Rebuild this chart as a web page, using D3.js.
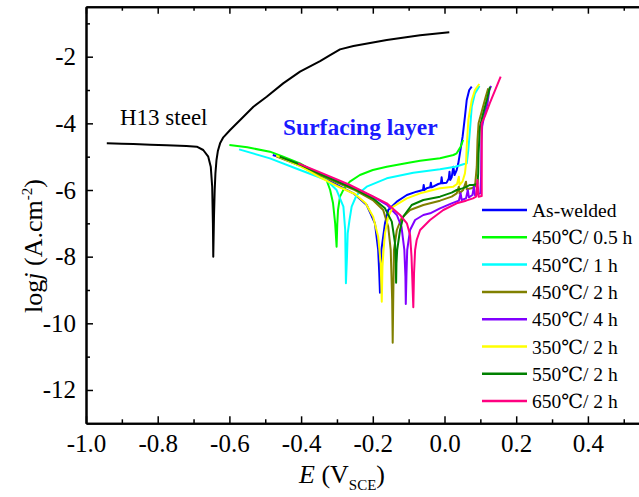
<!DOCTYPE html>
<html><head><meta charset="utf-8">
<script src="https://cdn.jsdelivr.net/npm/d3@7"></script>
<style>body{margin:0;background:#fff}svg{display:block}
svg text{font-family:"Liberation Serif","Times New Roman","DejaVu Serif",serif;}</style>
</head><body>
<svg id="chart" width="639" height="497"></svg>
<script>
// ---- data ----
const xMajorTicks = [-1.0, -0.8, -0.6, -0.4, -0.2, 0.0, 0.2, 0.4];
const xMinorTicks = [-0.9, -0.7, -0.5, -0.3, -0.1, 0.1, 0.3, 0.5];
const yMajorTicks = [-2, -4, -6, -8, -10, -12];
const yMinorTicks = [-1, -3, -5, -7, -9, -11];

const h13Steel = [
  [-0.942,-4.60],[-0.90,-4.61],[-0.868,-4.62],[-0.82,-4.64],[-0.775,-4.66],[-0.72,-4.68],[-0.691,-4.70],
  [-0.673,-4.80],[-0.659,-5.00],[-0.652,-5.30],[-0.648,-5.90],[-0.646,-7.00],[-0.645,-8.00],
  [-0.643,-6.80],[-0.641,-6.00],[-0.639,-5.50],[-0.636,-5.10],[-0.632,-4.82],[-0.626,-4.60],[-0.617,-4.42],
  [-0.598,-4.20],[-0.570,-3.90],[-0.533,-3.50],[-0.496,-3.20],[-0.450,-2.80],[-0.403,-2.45],[-0.347,-2.13],
  [-0.319,-1.95],[-0.2915,-1.78],[-0.254,-1.68],[-0.161,-1.50],[-0.068,-1.36],[0.0134,-1.27]
];

const asWelded = [
  [-0.479,-4.95],[-0.45,-5.05],[-0.40,-5.28],[-0.347,-5.60],[-0.30,-5.85],[-0.254,-6.10],[-0.217,-6.45],
  [-0.194,-7.00],[-0.185,-7.80],[-0.182,-8.50],[-0.180,-9.08],[-0.178,-8.30],[-0.176,-7.80],[-0.166,-7.00],
  [-0.157,-6.60],[-0.133,-6.35],[-0.105,-6.15],[-0.078,-6.05],[-0.060,-6.00],[-0.058,-5.85],[-0.056,-6.00],
  [-0.050,-5.95],[-0.040,-5.92],[-0.038,-5.78],[-0.036,-5.92],[-0.0173,-5.82],[-0.010,-5.80],[-0.008,-5.62],
  [-0.006,-5.80],[0.006,-5.78],[0.012,-5.65],[0.014,-5.45],[0.016,-5.70],[0.020,-5.62],[0.0246,-5.30],
  [0.028,-5.55],[0.034,-5.40],[0.0385,-5.20],[0.043,-4.90],[0.0505,-4.40],[0.057,-3.80],[0.062,-3.30],
  [0.069,-3.00],[0.076,-2.90]
];
const t450h05 = [
  [-0.600,-4.65],[-0.55,-4.72],[-0.487,-4.85],[-0.45,-5.00],[-0.403,-5.20],[-0.347,-5.55],[-0.329,-5.70],
  [-0.319,-6.00],[-0.311,-6.39],[-0.305,-7.00],[-0.301,-7.70],[-0.299,-7.00],[-0.297,-6.60],[-0.2915,-6.20],
  [-0.280,-5.95],[-0.264,-5.75],[-0.236,-5.55],[-0.20,-5.40],[-0.161,-5.30],[-0.10,-5.18],[-0.068,-5.12],
  [-0.0126,-5.05],[0.025,-4.95],[0.034,-4.90],[0.045,-4.70],[0.052,-4.50]
];
const t450h1 = [
  [-0.573,-4.78],[-0.487,-5.05],[-0.403,-5.40],[-0.329,-5.70],[-0.301,-6.00],[-0.282,-6.50],[-0.277,-7.20],
  [-0.275,-8.80],[-0.272,-8.00],[-0.270,-7.30],[-0.265,-6.90],[-0.259,-6.50],[-0.245,-6.15],[-0.217,-5.90],
  [-0.161,-5.65],[-0.087,-5.48],[-0.0126,-5.38],[0.030,-5.30],[0.055,-5.22],[0.062,-5.20],[0.0664,-4.80],
  [0.071,-4.20],[0.076,-3.50],[0.085,-3.10],[0.0976,-2.88]
];
const t450h2 = [
  [-0.468,-5.00],[-0.40,-5.28],[-0.347,-5.55],[-0.30,-5.78],[-0.25,-6.00],[-0.20,-6.30],[-0.171,-6.60],
  [-0.157,-7.10],[-0.150,-7.80],[-0.146,-9.30],[-0.1445,-10.58],[-0.143,-9.30],[-0.141,-7.80],[-0.133,-7.20],
  [-0.120,-6.85],[-0.096,-6.60],[-0.059,-6.45],[-0.0126,-6.32],[0.020,-6.20],[0.034,-6.10],[0.040,-5.90],
  [0.042,-6.10],[0.052,-6.00],[0.060,-5.75],[0.062,-5.98],[0.075,-5.95],[0.085,-5.90],[0.090,-5.30],
  [0.092,-4.50],[0.095,-4.00],[0.105,-3.60],[0.115,-3.20],[0.122,-2.95]
];
const t450h4 = [
  [-0.45,-5.05],[-0.40,-5.25],[-0.347,-5.50],[-0.30,-5.72],[-0.25,-5.95],[-0.20,-6.20],[-0.16,-6.45],
  [-0.133,-6.75],[-0.120,-7.10],[-0.112,-7.80],[-0.109,-8.60],[-0.108,-9.42],[-0.106,-8.50],[-0.104,-7.80],
  [-0.096,-7.20],[-0.082,-6.90],[-0.059,-6.75],[-0.040,-6.70],[-0.0126,-6.55],[0.020,-6.40],[0.040,-6.32],
  [0.045,-6.10],[0.048,-6.30],[0.060,-6.25],[0.065,-6.00],[0.068,-6.22],[0.078,-6.15],[0.082,-5.90],
  [0.085,-6.15],[0.100,-6.10],[0.102,-5.60],[0.103,-4.60],[0.105,-4.10],[0.112,-3.70],[0.120,-3.40],
  [0.125,-3.00],[0.130,-2.88]
];
const t350h2 = [
  [-0.470,-4.97],[-0.45,-5.05],[-0.40,-5.30],[-0.347,-5.62],[-0.30,-5.88],[-0.25,-6.12],[-0.22,-6.40],
  [-0.199,-6.80],[-0.185,-7.40],[-0.178,-8.20],[-0.175,-9.35],[-0.173,-8.30],[-0.170,-7.80],[-0.166,-7.30],
  [-0.157,-6.80],[-0.143,-6.50],[-0.105,-6.25],[-0.068,-6.10],[-0.0126,-5.95],[0.0246,-5.90],[0.035,-5.82],
  [0.040,-5.60],[0.042,-5.85],[0.050,-5.75],[0.057,-5.50],[0.060,-5.20],[0.062,-4.70],[0.0665,-3.90],
  [0.076,-3.30],[0.085,-3.00],[0.097,-2.82]
];
const t550h2 = [
  [-0.460,-5.00],[-0.40,-5.25],[-0.347,-5.52],[-0.30,-5.74],[-0.25,-5.97],[-0.20,-6.25],[-0.166,-6.55],
  [-0.147,-6.95],[-0.138,-7.60],[-0.136,-8.20],[-0.135,-8.78],[-0.134,-8.20],[-0.132,-7.80],[-0.124,-7.20],
  [-0.115,-6.80],[-0.0915,-6.45],[-0.059,-6.30],[-0.0126,-6.20],[0.020,-6.08],[0.034,-6.00],[0.050,-5.95],
  [0.062,-5.90],[0.070,-5.85],[0.080,-5.85],[0.092,-5.82],[0.094,-5.50],[0.095,-4.90],[0.099,-4.10],
  [0.108,-3.70],[0.118,-3.30],[0.127,-2.90]
];
const t650h2 = [
  [-0.408,-5.20],[-0.347,-5.47],[-0.30,-5.68],[-0.264,-5.85],[-0.208,-6.15],[-0.161,-6.40],[-0.124,-6.75],
  [-0.105,-7.00],[-0.096,-7.35],[-0.092,-8.00],[-0.087,-9.52],[-0.085,-8.50],[-0.082,-7.80],[-0.0776,-7.50],
  [-0.068,-7.20],[-0.0404,-6.90],[-0.0033,-6.60],[0.034,-6.40],[0.060,-6.32],[0.0795,-6.25],[0.088,-6.20],
  [0.092,-5.70],[0.095,-6.20],[0.1038,-6.18],[0.1038,-4.00],[0.1122,-3.80],[0.1261,-3.40],[0.1567,-2.60]
];

const seriesNames = ["As-welded", "450\u2103/ 0.5 h", "450\u2103/ 1 h", "450\u2103/ 2 h",
                     "450\u2103/ 4 h", "350\u2103/ 2 h", "550\u2103/ 2 h", "650\u2103/ 2 h"];
const seriesData = [asWelded, t450h05, t450h1, t450h2, t450h4, t350h2, t550h2, t650h2];
const seriesColors = ["#0000ff", "#00ff00", "#00ffff", "#808000", "#8000ff", "#ffff00", "#008000", "#ff0080"];

// ---- layout ----
const svg = d3.select("#chart");
const FONT = '"Liberation Serif","Times New Roman","DejaVu Serif",serif';
const x = d3.scaleLinear().domain([-1.0, 0.6]).range([86, 659.6]);
const y = d3.scaleLinear().domain([-13, -0.5]).range([423.3, 6.7]);

const line = d3.line().x(d => x(d[0])).y(d => y(d[1])).curve(d3.curveLinear);

svg.append("path").datum(h13Steel).attr("d", line)
  .attr("fill", "none").attr("stroke", "#000").attr("stroke-width", 2).attr("stroke-linejoin", "round");
seriesData.forEach((s, i) => {
  svg.append("path").datum(s).attr("d", line)
    .attr("fill", "none").attr("stroke", seriesColors[i]).attr("stroke-width", 2)
    .attr("stroke-linejoin", "round");
});

function styleAxis(g) {
  g.attr("font-family", null).attr("font-size", null);
  g.selectAll("path.domain").attr("stroke", "#000").attr("stroke-width", 2);
  g.selectAll(".tick line").attr("stroke", "#000").attr("stroke-width", 1.5);
  g.selectAll("text").style("font-family", FONT).style("font-size", "25px").attr("fill", "#000");
}
const fmtX = d => d3.format(".1f")(d).replace("\u2212", "-");
const fmtY = d => String(d);

const gB = svg.append("g").attr("transform", `translate(0,${y(-13)})`)
  .call(d3.axisBottom(x).tickValues(xMajorTicks).tickFormat(fmtX).tickSizeInner(-7).tickSizeOuter(0).tickPadding(11));
styleAxis(gB);
const gBm = svg.append("g").attr("transform", `translate(0,${y(-13)})`)
  .call(d3.axisBottom(x).tickValues(xMinorTicks).tickFormat("").tickSizeInner(-4).tickSizeOuter(0));
styleAxis(gBm);
const gT = svg.append("g").attr("transform", `translate(0,${y(-0.5)})`)
  .call(d3.axisTop(x).tickValues(xMajorTicks).tickFormat("").tickSizeInner(-7).tickSizeOuter(0));
styleAxis(gT);
const gTm = svg.append("g").attr("transform", `translate(0,${y(-0.5)})`)
  .call(d3.axisTop(x).tickValues(xMinorTicks).tickFormat("").tickSizeInner(-4).tickSizeOuter(0));
styleAxis(gTm);
const gL = svg.append("g").attr("transform", `translate(${x(-1.0)},0)`)
  .call(d3.axisLeft(y).tickValues(yMajorTicks).tickFormat(fmtY).tickSizeInner(-7).tickSizeOuter(0).tickPadding(10));
styleAxis(gL);
const gLm = svg.append("g").attr("transform", `translate(${x(-1.0)},0)`)
  .call(d3.axisLeft(y).tickValues(yMinorTicks).tickFormat("").tickSizeInner(-4).tickSizeOuter(0));
styleAxis(gLm);

const xt = svg.append("text").attr("x", 342).attr("y", 483).attr("text-anchor", "middle")
  .style("font-size", "26px").attr("fill", "#000");
xt.append("tspan").attr("font-style", "italic").text("E");
xt.append("tspan").text(" (V");
xt.append("tspan").style("font-size", "15px").attr("dy", 7).text("SCE");
xt.append("tspan").attr("dy", -7).text(")");

const yt = svg.append("text").attr("transform", "translate(42,246) rotate(-90)").attr("text-anchor", "middle")
  .style("font-size", "26px").attr("fill", "#000");
yt.append("tspan").text("log");
yt.append("tspan").attr("font-style", "italic").text("j");
yt.append("tspan").text(" (A.cm");
yt.append("tspan").style("font-size", "15px").attr("dy", -10).text("-2");
yt.append("tspan").attr("dy", 10).text(")");

svg.append("text").attr("x", 120).attr("y", 125).style("font-size", "23px")
  .attr("fill", "#000").text("H13 steel");
svg.append("text").attr("x", 283).attr("y", 135).style("font-size", "23.5px")
  .attr("font-weight", "bold").attr("fill", "#1a1aff").text("Surfacing layer");

const lg = svg.append("g");
seriesNames.forEach((n, i) => {
  const yy = 210 + i * 27.3;
  lg.append("line").attr("x1", 482).attr("x2", 527).attr("y1", yy).attr("y2", yy)
    .attr("stroke", seriesColors[i]).attr("stroke-width", 2.5);
  lg.append("text").attr("x", 532).attr("y", yy + 7).style("font-size", "19.5px")
    .attr("fill", "#000").text(n);
});
</script>
</body></html>
